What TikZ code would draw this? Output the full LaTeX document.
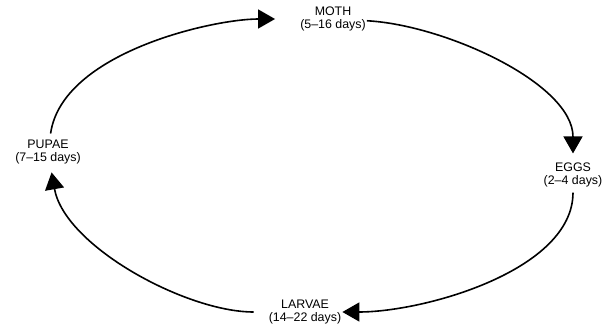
\documentclass[tikz,border=0pt]{standalone}
\usepackage{fontspec}
\setmainfont{Liberation Sans}
\usepackage{tikz}
\usetikzlibrary{arrows.meta}

\begin{document}
\begin{tikzpicture}[
  x=1pt,y=1pt,
  font=\fontsize{12.4}{13.5}\selectfont,
  stage/.style={align=center,inner sep=1pt},
  cyc/.style={-{Triangle[length=17pt,width=19pt]},line width=1.6pt,black}]
\useasboundingbox (0,0) rectangle (605,331);
\node[stage] (moth) at (333,312) {MOTH\\(5–16 days)};
\node[stage] (eggs) at (573,156) {EGGS\\(2–4 days)};
\node[stage] (larvae) at (305,19) {LARVAE\\(14–22 days)};
\node[stage] (pupae) at (48,179) {PUPAE\\(7–15 days)};
\draw[cyc,shorten <=5pt,shorten >=24pt] (pupae) to[out=82,in=180,looseness=0.8] (moth);
\draw[cyc,shorten >=8pt] (moth) to[out=-3,in=90,looseness=0.8] (eggs);
\draw[cyc,shorten <=4pt] (eggs) to[out=-90,in=0,looseness=0.8] (larvae);
\draw[cyc,shorten <=14pt,shorten >=7pt] (larvae) to[out=180,in=-80,looseness=0.8] (pupae);
\end{tikzpicture}
\end{document}
